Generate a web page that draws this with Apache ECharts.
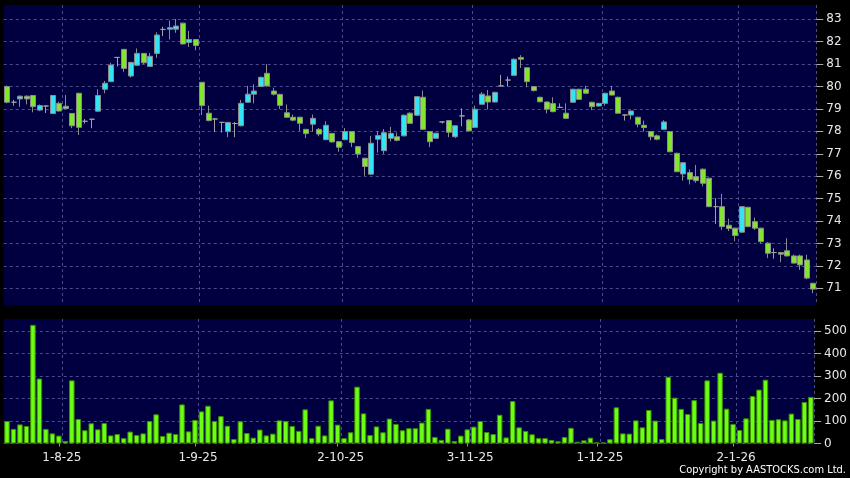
<!DOCTYPE html>
<html>
<head>
<meta charset="utf-8">
<script src="https://cdn.jsdelivr.net/npm/echarts@6/dist/echarts.min.js"></script>
<style>
  html, body { margin: 0; padding: 0; background: #000; }
  #chart { width: 850px; height: 478px; }
</style>
</head>
<body>
<div id="chart"></div>
<script>
// trading days, D-M-YY
const dates = [
  '22-7-25','23-7-25','24-7-25','25-7-25','28-7-25','29-7-25','30-7-25','31-7-25',
  '1-8-25','4-8-25','5-8-25','6-8-25','7-8-25','8-8-25','11-8-25','12-8-25','13-8-25','14-8-25','15-8-25',
  '18-8-25','19-8-25','20-8-25','21-8-25','22-8-25','25-8-25','26-8-25','27-8-25','28-8-25','29-8-25',
  '1-9-25','2-9-25','3-9-25','4-9-25','5-9-25','8-9-25','9-9-25','10-9-25','11-9-25','12-9-25','15-9-25',
  '16-9-25','17-9-25','18-9-25','19-9-25','22-9-25','23-9-25','24-9-25','25-9-25','26-9-25','29-9-25','30-9-25',
  '2-10-25','3-10-25','6-10-25','8-10-25','9-10-25','10-10-25','13-10-25','14-10-25','15-10-25','16-10-25',
  '17-10-25','20-10-25','21-10-25','22-10-25','23-10-25','24-10-25','27-10-25','28-10-25','30-10-25','31-10-25',
  '3-11-25','4-11-25','5-11-25','6-11-25','7-11-25','10-11-25','11-11-25','12-11-25','13-11-25','14-11-25',
  '17-11-25','18-11-25','19-11-25','20-11-25','21-11-25','24-11-25','25-11-25','26-11-25','27-11-25','28-11-25',
  '1-12-25','2-12-25','3-12-25','4-12-25','5-12-25','8-12-25','9-12-25','10-12-25','11-12-25','12-12-25',
  '15-12-25','16-12-25','17-12-25','18-12-25','19-12-25','22-12-25','23-12-25','24-12-25','29-12-25','30-12-25','31-12-25',
  '2-1-26','5-1-26','6-1-26','7-1-26','8-1-26','9-1-26','12-1-26','13-1-26','14-1-26','15-1-26','16-1-26','19-1-26','20-1-26'
];

const opens = [
  80.0, 79.3, 79.45, 79.57, 79.6, 78.95, 79.13, 78.8, 79.25, 79.02,
  78.8, 79.7, 78.45, 78.54, 78.9, 79.88, 80.22, 81.3, 81.66, 80.47,
  80.95, 81.48, 80.9, 81.48, 82.55, 82.56, 82.56, 82.83, 81.97, 82.1,
  80.19, 78.81, 78.55, 78.4, 77.99, 78.35, 78.25, 79.3, 79.66, 80.0,
  80.59, 79.8, 79.65, 78.83, 78.63, 78.63, 78.09, 78.32, 78.09, 77.63,
  77.91, 77.54, 77.63, 77.99, 77.32, 76.8, 76.09, 77.65, 77.14, 77.69,
  77.76, 77.8, 78.81, 78.72, 79.52, 77.99, 77.69, 78.42, 78.48, 77.76,
  78.69, 78.51, 78.18, 79.21, 79.58, 79.31, 80.03, 80.29, 80.5, 81.3,
  80.84, 80.0, 79.52, 79.31, 79.24, 79.07, 78.81, 79.3, 79.88, 79.88,
  79.3, 79.13, 79.25, 79.8, 79.52, 78.73, 78.73, 78.63, 78.27, 77.99,
  77.8, 78.09, 77.99, 77.02, 76.1, 76.16, 75.98, 76.31, 75.91, 74.64,
  74.64, 73.81, 73.68, 73.5, 74.61, 73.97, 73.68, 73.01, 72.59, 72.59,
  72.67, 72.44, 72.44, 72.26, 71.22
];
const closes = [
  79.3, 79.3, 79.57, 79.45, 79.1, 79.15, 79.13, 79.6, 78.91, 79.12,
  78.25, 78.18, 78.45, 78.54, 79.6, 80.15, 80.96, 81.3, 80.81, 81.08,
  81.48, 81.06, 81.35, 82.3, 82.55, 82.63, 82.7, 81.9, 82.1, 81.83,
  79.15, 78.48, 78.55, 78.4, 78.4, 78.35, 79.25, 79.66, 79.8, 80.41,
  80.03, 79.66, 79.16, 78.63, 78.5, 78.36, 77.9, 78.58, 77.88, 78.27,
  77.53, 77.29, 77.99, 77.5, 76.99, 76.43, 77.47, 77.81, 77.94, 77.91,
  77.6, 78.72, 78.36, 79.55, 78.09, 77.54, 77.92, 78.42, 77.96, 78.25,
  78.69, 78.02, 78.99, 79.66, 79.31, 79.74, 80.03, 80.29, 81.22, 81.22,
  80.22, 79.82, 79.32, 78.99, 78.88, 79.07, 78.58, 79.88, 79.43, 79.7,
  79.1, 79.25, 79.7, 79.62, 78.81, 78.73, 78.91, 78.32, 78.17, 77.76,
  77.65, 78.42, 77.09, 76.2, 76.6, 75.86, 75.8, 75.68, 74.64, 74.64,
  73.75, 73.66, 73.35, 74.64, 73.75, 73.68, 73.08, 72.56, 72.59, 72.52,
  72.44, 72.12, 72.04, 71.45, 70.96
];
const lows = [
  79.25, 79.15, 79.1, 79.2, 78.85, 78.9, 78.82, 78.78, 78.88, 79.0,
  78.14, 77.84, 78.35, 78.14, 78.88, 79.7, 80.2, 80.9, 80.66, 80.4,
  80.93, 81.0, 80.88, 81.28, 82.25, 82.1, 82.4, 81.88, 81.77, 81.62,
  78.73, 78.45, 77.97, 77.95, 77.74, 77.74, 78.22, 79.28, 79.25, 79.98,
  80.0, 79.6, 79.0, 78.6, 78.45, 78.03, 77.7, 77.98, 77.78, 77.6,
  77.5, 77.09, 77.6, 77.3, 76.82, 76.02, 76.05, 77.05, 77.0, 77.55,
  77.55, 77.78, 78.33, 78.7, 78.05, 77.3, 77.67, 78.35, 77.74, 77.7,
  78.23, 78.0, 78.15, 79.2, 78.98, 79.28, 80.0, 80.0, 80.48, 80.83,
  79.97, 79.78, 79.3, 78.8, 78.85, 79.05, 78.55, 79.28, 79.4, 79.68,
  78.95, 79.1, 79.15, 79.6, 78.78, 78.48, 78.53, 78.18, 77.99, 77.6,
  77.6, 78.07, 77.07, 76.18, 75.8, 75.63, 75.7, 75.55, 74.62, 73.87,
  73.6, 73.55, 73.1, 73.48, 73.72, 73.6, 73.0, 72.34, 72.32, 72.16,
  72.42, 72.1, 71.82, 71.4, 70.78
];
const highs = [
  80.05, 79.4, 79.6, 79.6, 79.62, 79.2, 79.15, 79.62, 79.32, 79.62,
  78.82, 79.72, 78.55, 78.56, 79.88, 80.25, 81.06, 81.32, 81.68, 81.1,
  81.7, 81.5, 81.5, 82.42, 82.67, 82.95, 83.02, 82.85, 82.48, 82.1,
  80.2, 79.15, 78.6, 78.42, 78.42, 78.42, 79.4, 80.03, 80.1, 80.45,
  81.0, 79.95, 79.68, 79.2, 78.75, 78.65, 78.1, 78.75, 78.15, 78.45,
  77.93, 77.56, 78.15, 78.0, 77.35, 76.82, 77.8, 78.0, 78.1, 78.2,
  77.95, 78.75, 78.85, 79.57, 79.82, 78.0, 77.93, 78.45, 78.5, 78.27,
  79.03, 78.55, 79.15, 79.75, 79.85, 79.77, 80.52, 80.45, 81.25, 81.4,
  80.86, 80.02, 79.55, 79.33, 79.52, 79.25, 79.25, 79.9, 79.9, 80.03,
  79.32, 79.27, 79.72, 80.03, 79.55, 78.75, 78.93, 78.65, 78.48, 78.0,
  77.86, 78.5, 78.0, 77.05, 76.62, 76.3, 76.5, 76.35, 75.93, 75.02,
  75.21, 74.1, 73.7, 74.66, 74.63, 74.15, 73.7, 73.05, 72.78, 72.62,
  73.23, 72.5, 72.5, 72.49, 71.24
];
// volume, thousands
const volumes = [
  100, 65, 85, 78, 528, 289, 65, 45, 35, 11,
  281, 109, 59, 90, 63, 91, 36, 42, 24, 53,
  38, 45, 100, 130, 33, 48, 42, 174, 54, 105,
  143, 168, 100, 122, 79, 20, 99, 47, 26, 62,
  36, 44, 103, 100, 78, 56, 152, 24, 79, 36,
  192, 84, 24, 50, 253, 134, 38, 76, 50, 111,
  87, 59, 68, 68, 93, 154, 29, 16, 66, 11,
  35, 63, 75, 100, 51, 42, 128, 27, 189, 72,
  56, 41, 24, 24, 16, 10, 29, 70, 8, 14,
  26, 5, 4, 19, 161, 45, 44, 103, 72, 149,
  102, 20, 297, 204, 154, 131, 193, 91, 281, 102,
  315, 155, 87, 60, 112, 211, 240, 284, 105, 108,
  103, 133, 109, 185, 207
];
const priceTicks = [71, 72, 73, 74, 75, 76, 77, 78, 79, 80, 81, 82, 83];
const volumeTicks = [0, 100, 200, 300, 400, 500];

// first trading day of each month
const monthOf = d => d.split('-').slice(1).join('-');
const isMonthStart = i => i > 0 && monthOf(dates[i]) !== monthOf(dates[i - 1]);

const candles = dates.map((d, i) => [opens[i], closes[i], lows[i], highs[i]]);

const chart = echarts.init(document.getElementById('chart'));

const gridLine = { show: true, lineStyle: { color: '#4c4c8c', type: [3, 3], width: 1 } };
const labelFont = { color: '#e8e8e8', fontFamily: 'DejaVu Sans', fontSize: 12 };

const option = {
  backgroundColor: '#000',
  animation: false,
  grid: [
    { left: 3.75, right: 33.75, top: 5, height: 300, show: true, backgroundColor: '#000040', borderWidth: 0 },
    { left: 3.75, right: 33.75, top: 319, height: 124.5, show: true, backgroundColor: '#000040', borderWidth: 0 }
  ],
  xAxis: [
    {
      type: 'category', gridIndex: 0, data: dates, boundaryGap: true,
      axisLine: { show: false }, axisTick: { show: false }, axisLabel: { show: false },
      splitLine: Object.assign({ interval: i => isMonthStart(i - 1) }, gridLine)
    },
    {
      type: 'category', gridIndex: 1, data: dates, boundaryGap: true,
      axisLine: { show: false },
      axisTick: { show: true, alignWithLabel: true, interval: i => isMonthStart(i), length: 3, lineStyle: { color: '#999' } },
      axisLabel: Object.assign({ interval: i => isMonthStart(i), margin: 8, padding: [0, 0, 0, 6] }, labelFont),
      splitLine: Object.assign({ interval: i => isMonthStart(i - 1) }, gridLine)
    }
  ],
  yAxis: [
    {
      type: 'value', gridIndex: 0, position: 'right', scale: true,
      min: 70.25, max: 83.64,
      axisLine: { show: false },
      axisTick: { show: true, length: 7, customValues: priceTicks, lineStyle: { color: '#aaa' } },
      axisLabel: Object.assign({ customValues: priceTicks, margin: 10 }, labelFont),
      splitLine: gridLine
    },
    {
      type: 'value', gridIndex: 1, position: 'right',
      min: 0, max: 554,
      axisLine: { show: false },
      axisTick: { show: true, length: 7, customValues: volumeTicks, lineStyle: { color: '#aaa' } },
      axisLabel: Object.assign({ customValues: volumeTicks, margin: 10 }, labelFont),
      splitLine: gridLine
    }
  ],
  series: [
    {
      type: 'candlestick', xAxisIndex: 0, yAxisIndex: 0,
      data: candles,
      barWidth: 5.5,
      itemStyle: {
        color: '#33e4f4',
        color0: '#80e62e',
        borderColor: '#8c8c8c',
        borderColor0: '#8c8c8c',
        borderColorDoji: '#a0a0a0',
        borderWidth: 1
      }
    },
    {
      type: 'bar', xAxisIndex: 1, yAxisIndex: 1,
      data: volumes,
      barWidth: 5.5,
      itemStyle: { color: '#6cff14', borderColor: '#3a8c00', borderWidth: 1 }
    }
  ],
  graphic: [
    {
      type: 'text', right: 4, top: 465,
      style: {
        text: 'Copyright by AASTOCKS.com Ltd.',
        fill: '#ffffff',
        font: '11px "DejaVu Sans Condensed", "DejaVu Sans"'
      }
    }
  ]
};

chart.setOption(option);
</script>
</body>
</html>
